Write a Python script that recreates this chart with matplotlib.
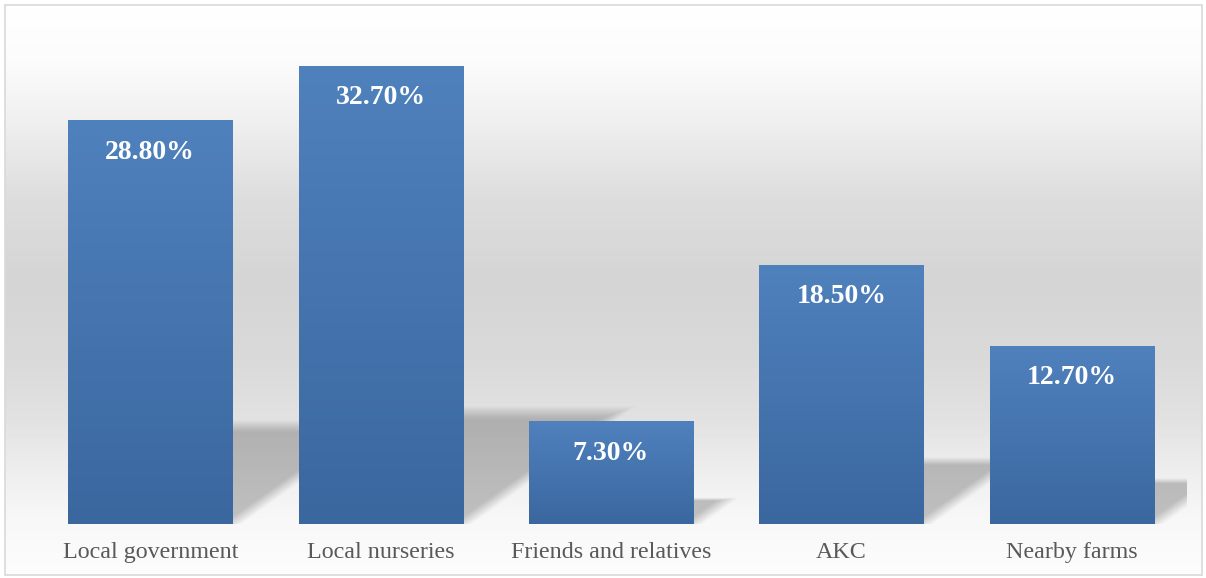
import numpy as np
import matplotlib
matplotlib.use("Agg")
import matplotlib.pyplot as plt
from matplotlib.patches import Rectangle, Polygon
from matplotlib.colors import LinearSegmentedColormap

# ── Data ────────────────────────────────────────────────────────────────────
categories = ["Local government", "Local nurseries", "Friends and relatives",
              "AKC", "Nearby farms"]
values = [28.8, 32.7, 7.3, 18.5, 12.7]
value_labels = ["28.80%", "32.70%", "7.30%", "18.50%", "12.70%"]

# ── Style ───────────────────────────────────────────────────────────────────
SERIF = ["Liberation Serif", "DejaVu Serif"]
BAR_TOP = "#4f81bd"
BAR_BOTTOM = "#3b679f"
LABEL_COLOUR = "#595959"
BORDER = "#d9d9d9"
BAR_WIDTH = 0.712

W, H = 1206, 578
AX_L, AX_R, AX_T, AX_B = 35, 1187, 34, 524
fig = plt.figure(figsize=(W / 100, H / 100), dpi=100)

# background gradient (chart area fill), stops given in pixel rows
bg = fig.add_axes([0, 0, 1, 1])
bg.set_xlim(0, W)
bg.set_ylim(H, 0)
bg.axis("off")
rows = [5, 60, 120, 200, 280, 360, 420, 470, 520, 575]
cols = ["#ffffff", "#fcfcfc", "#f0f0f0", "#dddddd", "#d5d5d5",
        "#dadada", "#e2e2e2", "#eeeeee", "#f8f8f8", "#fdfdfd"]
pos = [(r - rows[0]) / (rows[-1] - rows[0]) for r in rows]
bg_cmap = LinearSegmentedColormap.from_list("bg", list(zip(pos, cols)))
grad = np.linspace(0, 1, 570).reshape(-1, 1)
bg.imshow(grad, cmap=bg_cmap, extent=[5, 1202, 575, 5], aspect="auto",
          interpolation="bilinear")
bg.add_patch(Rectangle((5, 5), 1197, 570, fill=False, edgecolor=BORDER,
                       linewidth=1.2))

# ── Plot axes ───────────────────────────────────────────────────────────────
ax = fig.add_axes([AX_L / W, (H - AX_B) / H, (AX_R - AX_L) / W,
                   (AX_B - AX_T) / H])
ax.patch.set_alpha(0)
for s in ax.spines.values():
    s.set_visible(False)

bar_cmap = LinearSegmentedColormap.from_list("bar", [BAR_BOTTOM, BAR_TOP])
x = np.arange(len(categories))

# px per data unit (for shadow geometry)
px_x = (AX_R - AX_L) / len(categories)
px_y = (AX_B - AX_T) / 35.0

n_layers = 14
for xi, v in zip(x, values):
    x0, x1 = xi - BAR_WIDTH / 2, xi + BAR_WIDTH / 2
    # perspective shadow lying behind the bar, soft edges by layering
    dx = 0.34 * v * px_y / px_x
    sh = 0.245 * v
    for k in range(n_layers):
        t = k / (n_layers - 1)
        shift = (9 - 18 * t) / px_x           # slide diagonal edge
        fy = 1.05 - 0.12 * t                  # soften top edge
        ax.add_patch(Polygon([(x0, 0), (x1 + shift, 0),
                              (x1 + dx * fy + shift, sh * fy),
                              (x0 + dx * fy, sh * fy)],
                             closed=True, facecolor="black", alpha=0.0145,
                             edgecolor="none", zorder=1))
    # bar with vertical gradient
    ax.imshow(np.linspace(1, 0, 200).reshape(-1, 1), cmap=bar_cmap,
              extent=[x0, x1, 0, v], aspect="auto", zorder=2,
              interpolation="bilinear")

for xi, v, lab in zip(x, values, value_labels):
    ax.text(xi, v - 2.25, lab, ha="center", va="center", color="white",
            fontsize=20, fontweight="bold", family=SERIF, zorder=3)

ax.set_xlim(-0.5, len(categories) - 0.5)
ax.set_ylim(0, 35)
ax.set_yticks([])
ax.set_xticks(x)
ax.set_xticklabels(categories, fontsize=17.3, color=LABEL_COLOUR, family=SERIF)
ax.tick_params(axis="x", length=0, pad=13)

fig.savefig("out.png", dpi=100)
